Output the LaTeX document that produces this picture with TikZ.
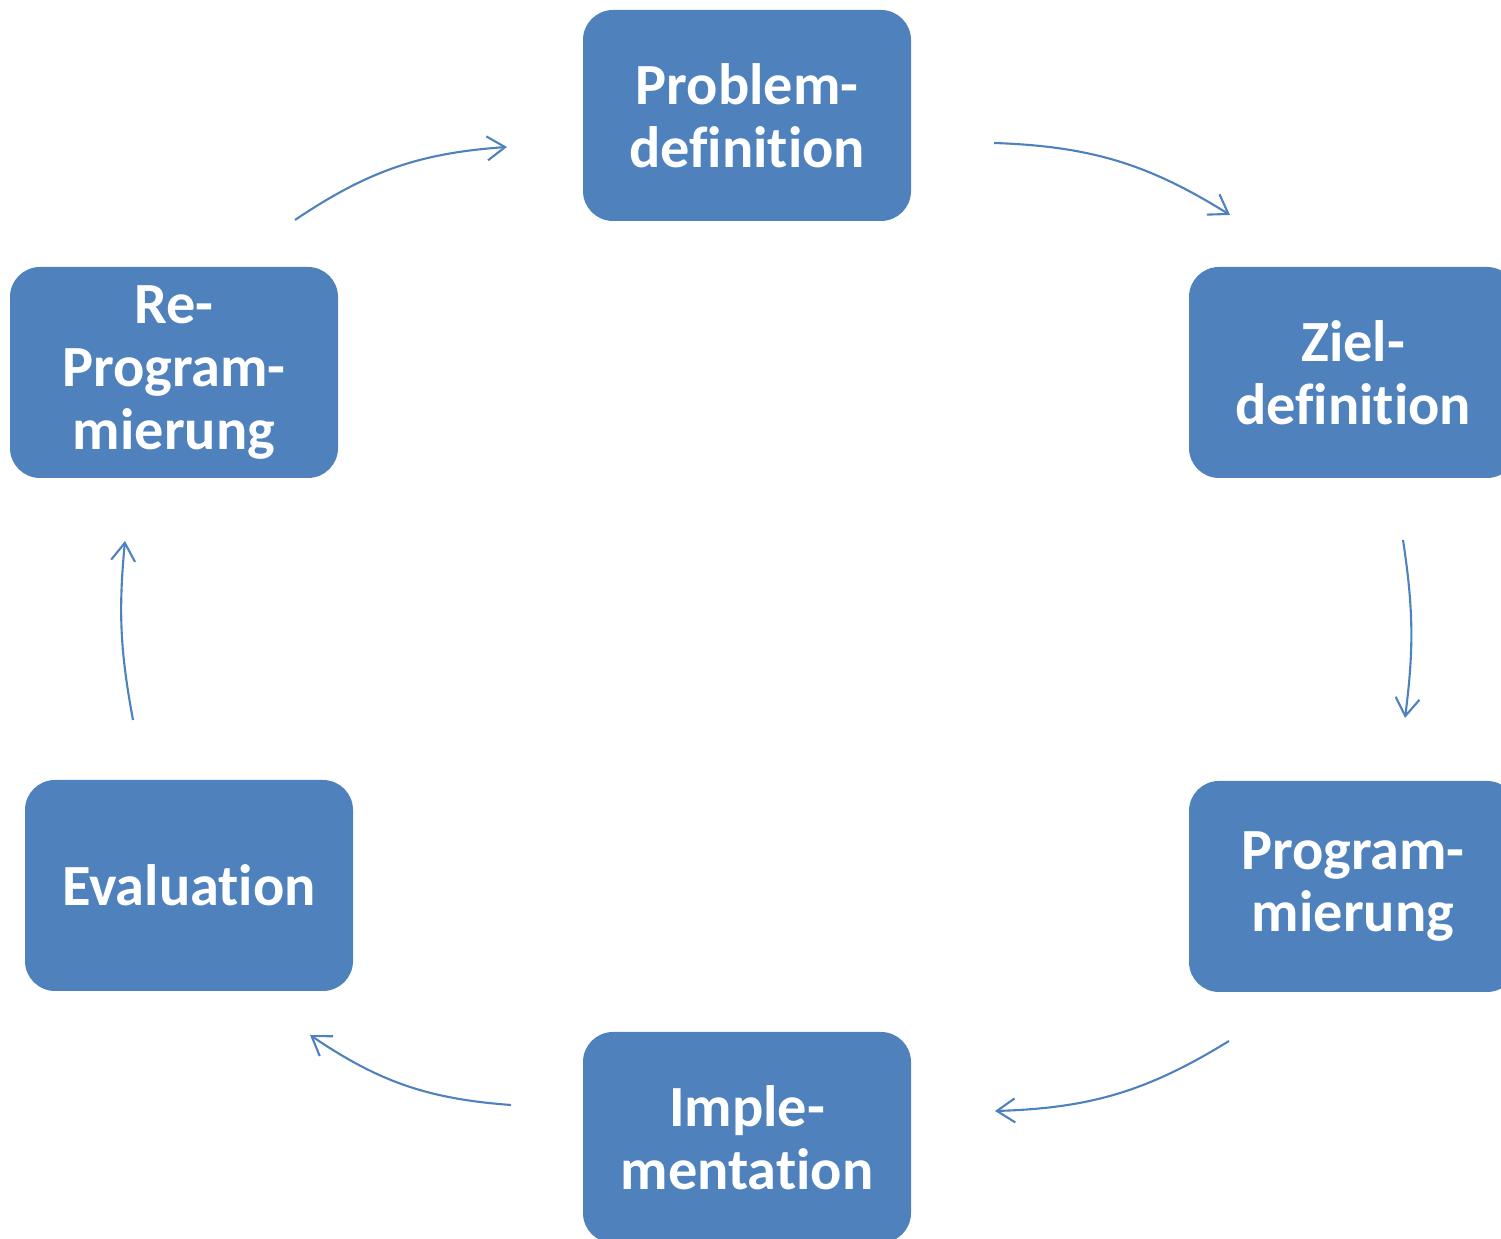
\documentclass[tikz,border=0pt]{standalone}
\usepackage{fontspec}
\setmainfont[Ligatures={NoCommon}]{Carlito}
\usetikzlibrary{arrows.meta}
\definecolor{phaseblue}{HTML}{4F81BD}
\tikzstyle{phase} = [rectangle, rounded corners=0.3cm, minimum width=3.28cm, minimum height=2.11cm, align=center, fill=phaseblue, text=white, font=\bfseries\fontsize{16.6pt}{17.9pt}\selectfont]
\tikzstyle{cyclearrow} = [draw=phaseblue, line width=0.6pt, -{Straight Barb[length=1.8mm,width=2.4mm]}, bend left=15]

\begin{document}
\begin{tikzpicture}
    \clip (0,0) rectangle (15.01,12.39);

    \node (problem) [phase] at (7.47,11.235) {Problem-\\definition};
    \node (ziel) [phase] at (13.53,8.665) {Ziel-\\definition};
    \node (prog) [phase] at (13.53,3.525) {Program-\\mierung};
    \node (impl) [phase] at (7.47,1.015) {Imple-\\mentation};
    \node (eval) [phase] at (1.89,3.535) {Evaluation};
    \node (reprog) [phase] at (1.74,8.665) {Re-\\Program-\\mierung};

    \coordinate (a1s) at (2.95,10.19);
    \coordinate (a1e) at (5.07,10.92);
    \coordinate (a2s) at (9.94,10.96);
    \coordinate (a2e) at (12.30,10.24);
    \coordinate (a3s) at (14.03,6.99);
    \coordinate (a3e) at (14.05,5.21);
    \coordinate (a4s) at (12.29,1.98);
    \coordinate (a4e) at (9.95,1.28);
    \coordinate (a5s) at (5.11,1.34);
    \coordinate (a5e) at (3.10,2.04);
    \coordinate (a6s) at (1.33,5.19);
    \coordinate (a6e) at (1.25,6.98);

    \draw [cyclearrow] (a1s) to (a1e);
    \draw [cyclearrow] (a2s) to (a2e);
    \draw [cyclearrow, bend left=8] (a3s) to (a3e);
    \draw [cyclearrow] (a4s) to (a4e);
    \draw [cyclearrow] (a5s) to (a5e);
    \draw [cyclearrow, bend left=8] (a6s) to (a6e);

\end{tikzpicture}
\end{document}
